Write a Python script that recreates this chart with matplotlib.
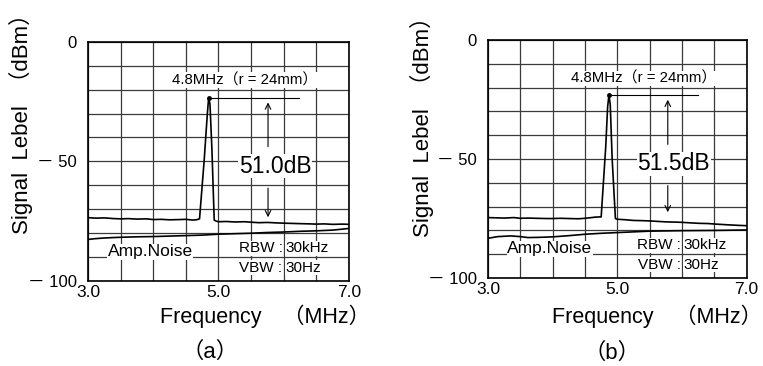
import matplotlib
matplotlib.use("Agg")
import matplotlib.pyplot as plt

plt.rcParams['font.family'] = ['Liberation Sans', 'Noto Sans CJK JP', 'DejaVu Sans']

# spectrum traces (MHz, dBm)
freq_a = [3.0, 3.12, 3.25, 3.4, 3.5, 3.62, 3.75, 3.9, 4.0, 4.12, 4.25, 4.4, 4.5, 4.6, 4.66, 4.71,
          4.78, 4.83, 4.85, 4.87, 4.9, 4.935, 4.97, 5.0, 5.12, 5.25, 5.4, 5.5, 5.62, 5.75, 5.9,
          6.0, 6.12, 6.25, 6.4, 6.5, 6.62, 6.75, 6.9, 7.0]
level_a = [-73.5, -73.7, -73.6, -73.9, -74.0, -73.9, -74.1, -74.0, -74.3, -74.2, -74.4, -74.3, -74.2,
           -74.5, -74.4, -74.0, -50.0, -30.0, -23.4, -26.0, -45.0, -74.5, -75.0, -75.2, -75.1,
           -75.3, -75.2, -75.4, -75.6, -75.5, -75.7, -75.8, -75.9, -76.0, -76.1, -76.2, -76.1,
           -76.3, -76.2, -76.3]
noise_freq_a = [3.0, 3.1, 3.25, 3.4, 3.5, 3.75, 4.0, 4.25, 4.5, 4.75, 5.0, 5.25, 5.5, 5.75, 6.0,
                6.25, 6.5, 6.75, 6.9, 7.0]
noise_a = [-82.6, -82.3, -82.0, -81.8, -81.7, -81.5, -81.4, -81.2, -81.0, -80.8, -80.4, -80.2,
           -80.0, -79.7, -79.5, -79.2, -79.0, -78.7, -78.3, -78.0]

freq_b = [3.0, 3.12, 3.25, 3.4, 3.5, 3.62, 3.75, 3.9, 4.0, 4.12, 4.25, 4.4, 4.5, 4.6, 4.66, 4.75,
          4.82, 4.85, 4.87, 4.89, 4.92, 4.97, 5.0, 5.12, 5.25, 5.4, 5.5, 5.62, 5.75, 5.9, 6.0,
          6.12, 6.25, 6.4, 6.5, 6.62, 6.75, 6.9, 7.0]
level_b = [-74.6, -74.7, -74.8, -74.6, -74.9, -74.8, -74.9, -75.0, -75.0, -74.9, -75.0, -75.1,
           -74.9, -74.6, -74.4, -74.3, -45.0, -28.0, -23.1, -27.0, -50.0, -75.0, -75.3, -75.5,
           -75.8, -75.9, -76.0, -76.2, -76.4, -76.5, -76.6, -76.8, -77.0, -77.1, -77.3, -77.5,
           -77.7, -77.9, -78.0]
noise_freq_b = [3.0, 3.15, 3.35, 3.5, 3.62, 3.8, 4.0, 4.25, 4.5, 4.75, 5.0, 5.25, 5.5, 5.75,
                6.0, 6.5, 7.0]
noise_b = [-83.3, -82.6, -82.3, -82.6, -83.0, -82.9, -82.7, -82.2, -81.6, -81.2, -80.9, -80.6,
           -80.3, -80.2, -80.1, -80.0, -79.8]

peak_a = (4.85, -23.4)
peak_b = (4.87, -23.1)
diff_labels = ['51.0dB', '51.5dB']
panel_labels = ['（a）', '（b）']

x_grid = [3.0, 3.5, 4.0, 4.5, 5.0, 5.5, 6.0, 6.5, 7.0]
x_labels = ['3.0', '', '', '', '5.0', '', '', '', '7.0']
y_grid = [0, -10, -20, -30, -40, -50, -60, -70, -80, -90, -100]
y_labels = ['0', '', '', '', '', '－ 50', '', '', '', '', '－ 100']

fig = plt.figure(figsize=(7.63, 3.66), dpi=100)


def panel(rect, f, lv, nf, nl, peak, dlabel, plabel, arrow_x, arrow_low, pos):
    ax = fig.add_axes(rect)
    ax.set_xlim(3.0, 7.0)
    ax.set_ylim(-100, 0)
    ax.set_xticks(x_grid)
    ax.set_xticklabels(x_labels, fontsize=12.5)
    ax.set_yticks(y_grid)
    ax.set_yticklabels(y_labels, fontsize=12)
    ax.tick_params(axis='x', length=0, pad=3)
    ax.tick_params(axis='y', length=0, pad=8)
    ax.grid(True, color='#3a3a3a', lw=0.9)
    ax.set_axisbelow(True)
    for s in ax.spines.values():
        s.set_linewidth(1.2)
    ax.plot(f, lv, color='black', lw=1.2, zorder=3)
    ax.plot(nf, nl, color='black', lw=1.2, zorder=3)

    # peak marker, reference line and level difference
    ax.plot([peak[0]], [peak[1]], 'o', color='black', ms=2.5, zorder=4)
    ax.plot([peak[0], 6.24], [peak[1], peak[1]], color='black', lw=0.8, zorder=4)
    ax.annotate('', xy=(arrow_x, peak[1] - 0.8), xytext=(arrow_x, -45),
                arrowprops=dict(arrowstyle='->', lw=0.8, color='black'), zorder=4)
    ax.annotate('', xy=(arrow_x, arrow_low), xytext=(arrow_x, -60),
                arrowprops=dict(arrowstyle='->', lw=0.8, color='black'), zorder=4)
    ax.text(5.87, -52, dlabel, fontsize=16.5, ha='center', va='center', zorder=5,
            bbox=dict(facecolor='white', edgecolor='none', pad=0.5))
    ax.text(5.4, -16, '4.8MHz（r = 24mm）', fontsize=10.8, ha='center', va='center', zorder=5,
            bbox=dict(facecolor='white', edgecolor='none', pad=0.3))
    ax.text(3.3, -89.6, 'Amp.Noise', fontsize=12.5, ha='left', va='baseline', zorder=5,
            bbox=dict(facecolor='white', edgecolor='none', pad=0.3))
    ax.text(5.98, -86.3, 'RBW :', fontsize=11, ha='right', va='center', zorder=5,
            bbox=dict(facecolor='white', edgecolor='none', pad=0.3))
    ax.text(6.03, -86.3, '30kHz', fontsize=11, ha='left', va='center', zorder=5,
            bbox=dict(facecolor='white', edgecolor='none', pad=0.3))
    ax.text(5.98, -94.5, 'VBW :', fontsize=11, ha='right', va='center', zorder=5,
            bbox=dict(facecolor='white', edgecolor='none', pad=0.3))
    ax.text(6.03, -94.5, '30Hz', fontsize=11, ha='left', va='center', zorder=5,
            bbox=dict(facecolor='white', edgecolor='none', pad=0.3))

    # axis titles
    ax.text(pos['xl_x'], pos['xl_y'], 'Frequency　（MHz）', transform=ax.transAxes,
            fontsize=15.5, ha='right', va='center')
    ax.text(pos['p_x'], pos['p_y'], plabel, transform=ax.transAxes, fontsize=16,
            ha='center', va='center')
    ax.text(-0.255, pos['yl_y'], 'Signal  Lebel  （dBm）', transform=ax.transAxes,
            fontsize=16, rotation=90, ha='center', va='center')
    return ax


panel([0.1153, 0.232, 0.342, 0.654], freq_a, level_a, noise_freq_a, noise_a, peak_a,
      diff_labels[0], panel_labels[0], 5.76, -74.5,
      dict(xl_x=1.08, xl_y=-0.148, p_x=0.467, p_y=-0.296, yl_y=0.68))
panel([0.6396, 0.2404, 0.339, 0.650], freq_b, level_b, noise_freq_b, noise_b, peak_b,
      diff_labels[1], panel_labels[1], 5.78, -73.5,
      dict(xl_x=1.058, xl_y=-0.16, p_x=0.479, p_y=-0.315, yl_y=0.66))

fig.savefig('out.png', dpi=100)
